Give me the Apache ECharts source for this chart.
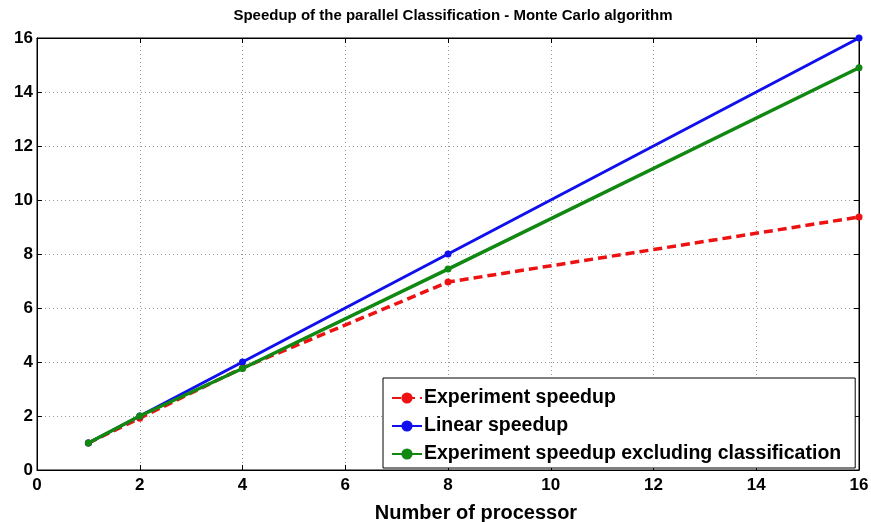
<!DOCTYPE html>
<html><head><meta charset="utf-8">
<script src="https://cdn.jsdelivr.net/npm/echarts@6/dist/echarts.min.js"></script>
<style>html,body{margin:0;padding:0;background:#fff}#c{width:871px;height:522px}</style>
</head><body><div id="c"></div>
<script>
const processors = [1, 2, 4, 8, 16];
const experimentSpeedup = [1.0, 1.92, 3.78, 6.96, 9.37];
const linearSpeedup = [1, 2, 4, 8, 16];
const excludingClassification = [1.0, 2.0, 3.76, 7.44, 14.9];
const seriesNames = ['Experiment speedup', 'Linear speedup', 'Experiment speedup excluding classification'];
const font = 'Liberation Sans';

function pairs(ys){ return processors.map((x,i)=>[x, ys[i]]); }

const chart = echarts.init(document.getElementById('c'));
const lbl = {color: '#000', fontSize: 17, fontWeight: 'bold', fontFamily: font};
const axisCommon = {
  min: 0, max: 16, interval: 2,
  axisLine: {show: true, onZero: false, lineStyle: {color: '#000', width: 1}},
  axisTick: {show: true, inside: true, length: 5, lineStyle: {color: '#000'}},
  splitLine: {show: true, lineStyle: {color: '#999', type: [1, 3], width: 1}},
  axisLabel: lbl
};
chart.setOption({
  animation: false,
  title: {text: 'Speedup of the parallel Classification - Monte Carlo algorithm', left: 448, textAlign: 'center', top: 3,
    textStyle: {fontSize: 15, fontWeight: 'bold', color: '#000', fontFamily: font}},
  grid: {left: 37, right: 12, top: 38, bottom: 52, containLabel: false, outerBoundsMode: 'none',
    show: true, borderColor: '#000', borderWidth: 1},
  xAxis: [
    Object.assign({}, axisCommon, {type: 'value', position: 'bottom', name: 'Number of processor', nameLocation: 'middle', nameGap: 33,
      nameTextStyle: {fontSize: 20, fontWeight: 'bold', color: '#000', fontFamily: font, padding: [0, 0, 0, 56]},
      axisLabel: Object.assign({}, lbl, {margin: 7})}),
    Object.assign({}, axisCommon, {type: 'value', position: 'top', axisLabel: {show: false}, splitLine: {show: false}})
  ],
  yAxis: [
    Object.assign({}, axisCommon, {type: 'value', position: 'left', axisLabel: Object.assign({}, lbl, {margin: 4})}),
    Object.assign({}, axisCommon, {type: 'value', position: 'right', axisLabel: {show: false}, splitLine: {show: false}})
  ],
  legend: {
    orient: 'vertical', left: 383, top: 378,
    backgroundColor: '#fff', borderColor: '#000', borderWidth: 1,
    padding: [10, 14, 4, 8], itemGap: 8, itemWidth: 30, itemHeight: 14,
    textStyle: {fontSize: 19.5, fontWeight: 'bold', color: '#000', fontFamily: font, padding: [0, 0, 0, -3]},
    data: seriesNames
  },
  series: [
    {name: seriesNames[0], type: 'line', data: pairs(experimentSpeedup), color: '#ee1111',
      lineStyle: {width: 3.5, type: [9, 5], color: '#ee1111'}, itemStyle: {color: '#ee1111'}, symbol: 'circle', symbolSize: 7, z: 2},
    {name: seriesNames[1], type: 'line', data: pairs(linearSpeedup), color: '#1010ee',
      lineStyle: {width: 3, color: '#1010ee'}, itemStyle: {color: '#1010ee'}, symbol: 'circle', symbolSize: 7, z: 3},
    {name: seriesNames[2], type: 'line', data: pairs(excludingClassification), color: '#118811',
      lineStyle: {width: 3.5, color: '#118811'}, itemStyle: {color: '#118811'}, symbol: 'circle', symbolSize: 7, z: 4}
  ]
});
</script></body></html>
